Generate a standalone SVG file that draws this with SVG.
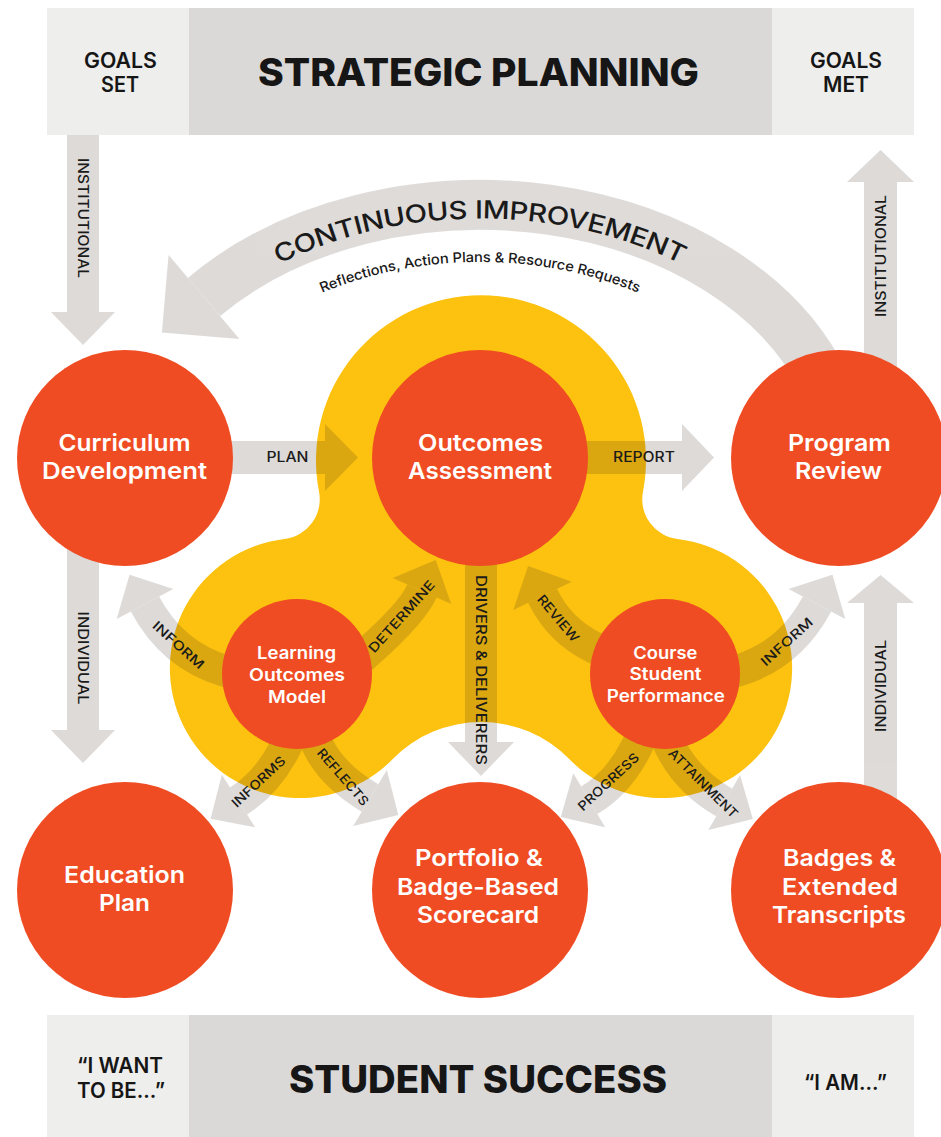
<svg xmlns="http://www.w3.org/2000/svg" width="941" height="1137" viewBox="0 0 941 1137">
<style>
text{font-family:Inter,"Liberation Sans",sans-serif}
.node{fill:#ef4c23}
.nl{fill:#fff;font-weight:600;font-size:23px;text-anchor:middle}
.sl{fill:#fff;font-weight:600;font-size:17px;text-anchor:middle}
.bt{fill:#161616;font-weight:800;font-size:38px;text-anchor:middle}
.bs{fill:#161616;font-weight:600;font-size:21px;text-anchor:middle}
.al{fill:#1a1a1a;font-weight:500;font-size:14px;text-anchor:middle}
.cl{fill:#1a1a1a;font-weight:500;font-size:13px;text-anchor:middle}
.ar{fill:#3a2a20}
.bd{fill:none;stroke:#3a2a20;stroke-linejoin:round}
</style>
<defs>
<path id="ciPath" d="M 137,380.3 A 365 266.4 0 0 1 823,380.3"/>
<path id="rfPath" d="M 191.5,397.8 A 307 214 0 0 1 768.5,397.8"/>
</defs>
<rect width="941" height="1137" fill="#fff"/>

<g id="strategic-planning">
<rect x="47" y="8" width="867" height="127" fill="#eeeeed"/>
<rect x="189" y="8" width="583" height="127" fill="#dbd9d8"/>
<text class="bs" x="120.5" y="67.6" textLength="73" lengthAdjust="spacingAndGlyphs">GOALS</text>
<text class="bs" x="120" y="92.3" textLength="38" lengthAdjust="spacingAndGlyphs">SET</text>
<text class="bt" x="478.5" y="86.2" textLength="441" lengthAdjust="spacingAndGlyphs">STRATEGIC PLANNING</text>
<text class="bs" x="846" y="67.6" textLength="72" lengthAdjust="spacingAndGlyphs">GOALS</text>
<text class="bs" x="846" y="92.3" textLength="46" lengthAdjust="spacingAndGlyphs">MET</text>
</g>

<g id="student-success">
<rect x="47" y="1015" width="867" height="122" fill="#eeeeed"/>
<rect x="189" y="1015" width="583" height="122" fill="#dbd9d8"/>
<text class="bs" x="120" y="1073" textLength="86" lengthAdjust="spacingAndGlyphs">“I WANT</text>
<text class="bs" x="121" y="1098" textLength="88" lengthAdjust="spacingAndGlyphs">TO BE...”</text>
<text class="bt" x="478" y="1092.7" textLength="378" lengthAdjust="spacingAndGlyphs">STUDENT SUCCESS</text>
<text class="bs" x="845.5" y="1089.5" textLength="83" lengthAdjust="spacingAndGlyphs">“I AM...”</text>
</g>

<g id="outcomes-core">
<path d="M 319,491.6 A 165 165 0 1 1 643,491.6 A 40 40 0 0 0 677.5,539 A 130 130 0 1 1 569.2,759 A 123.5 123.5 0 0 0 392.8,759 A 130 130 0 1 1 284.5,539 A 40 40 0 0 0 319,491.6 Z" fill="#fcc20f"/>
</g>

<g id="connectors" opacity="0.17">
<path class="bd" stroke-width="50" d="M 825.3,385 A 365 266.4 0 0 0 204,297"/>
<polygon class="ar" points="239.4,339.1 161.9,332.4 168.6,254.9"/>
<polygon class="ar" points="230,441 325,441 325,424 358,457.5 325,491 325,474 230,474"/>
<polygon class="ar" points="585,441 682,441 682,424 714,457.5 682,491 682,474 585,474"/>
<polygon class="ar" points="465,555 497,555 497,742 514,742 481,776 448,742 465,742"/>
<polygon class="ar" points="67,135 99,135 99,312 115,312 83,345 51,312 67,312"/>
<polygon class="ar" points="67,545 99,545 99,730 115,730 83,763 51,730 67,730"/>
<polygon class="ar" points="864,375 864,182 847,182 880.5,150 914,182 897,182 897,375"/>
<polygon class="ar" points="864,810 864,603 847,603 880.5,575 914,603 897,603 897,810"/>
<path class="bd" stroke-width="32" d="M 282,688 L 225,671 Q 172,655 145,604"/>
<polygon class="ar" points="173.3,589 129.6,574.8 116.7,619"/>
<path class="bd" stroke-width="32" d="M 338,679 L 368,652 Q 412.6,612.4 422,591"/>
<polygon class="ar" points="451.3,603.9 435.7,559.9 392.7,578.1"/>
<path class="bd" stroke-width="32" d="M 303,712 L 285,748 Q 267.5,782.6 238.5,801"/>
<polygon class="ar" points="255.1,827.2 210.6,818.7 221.9,774.8"/>
<path class="bd" stroke-width="32" d="M 301,712 L 319,748 Q 333.1,775.9 370,798"/>
<polygon class="ar" points="386.8,770 398.3,815 353.2,826"/>
<path class="bd" stroke-width="32" d="M 635.6,667.4 L 595,648 Q 559.6,631.1 542.5,595.8"/>
<polygon class="ar" points="571.7,581.7 528.1,566.1 513.3,609.9"/>
<path class="bd" stroke-width="32" d="M 680,688 L 737,671 Q 790,655 817,604"/>
<polygon class="ar" points="845.3,619 832.4,574.8 788.7,589"/>
<path class="bd" stroke-width="32" d="M 654,712 L 636,748 Q 618.1,783.3 589.2,800.3"/>
<polygon class="ar" points="605.1,827.3 560.8,817 573.3,773.3"/>
<path class="bd" stroke-width="32" d="M 653,712 L 671,748 Q 688,781.6 724.2,802.5"/>
<polygon class="ar" points="740.05,775.05 752.8,819 708.35,829.95"/>
</g>

<g id="connector-labels">
<text fill="#1a1a1a" style="font-weight:500;font-size:25px" dy="13.5"><textPath href="#ciPath" startOffset="50%" text-anchor="middle" textLength="428" lengthAdjust="spacingAndGlyphs">CONTINUOUS IMPROVEMENT</textPath></text>
<text fill="#1a1a1a" style="font-weight:500;font-size:14px" dy="5"><textPath href="#rfPath" startOffset="50%" text-anchor="middle" textLength="328" lengthAdjust="spacingAndGlyphs">Reflections, Action Plans &amp; Resource Requests</textPath></text>
<text class="al" x="287.5" y="461.7" textLength="42" lengthAdjust="spacingAndGlyphs">PLAN</text>
<text class="al" x="644" y="461.7" textLength="62" lengthAdjust="spacingAndGlyphs">REPORT</text>
<text class="al" transform="translate(83,218) rotate(90)" y="5" textLength="120" lengthAdjust="spacingAndGlyphs">INSTITUTIONAL</text>
<text class="al" transform="translate(83,658) rotate(90)" y="5" textLength="93" lengthAdjust="spacingAndGlyphs">INDIVIDUAL</text>
<text class="al" transform="translate(481,670) rotate(90)" y="5" textLength="190" lengthAdjust="spacingAndGlyphs">DRIVERS &amp; DELIVERERS</text>
<text class="al" transform="translate(881,256) rotate(-90)" y="5" textLength="122" lengthAdjust="spacingAndGlyphs">INSTITUTIONAL</text>
<text class="al" transform="translate(881,686) rotate(-90)" y="5" textLength="92" lengthAdjust="spacingAndGlyphs">INDIVIDUAL</text>
<text class="cl" transform="translate(178.5,645) rotate(42)" y="4.7" textLength="64" lengthAdjust="spacingAndGlyphs">INFORM</text>
<text class="cl" transform="translate(401.5,616.5) rotate(-48)" y="4.7" textLength="92" lengthAdjust="spacingAndGlyphs">DETERMINE</text>
<text class="cl" transform="translate(258.3,781.7) rotate(-43)" y="4.7" textLength="68" lengthAdjust="spacingAndGlyphs">INFORMS</text>
<text class="cl" transform="translate(343,777) rotate(49)" y="4.7" textLength="71" lengthAdjust="spacingAndGlyphs">REFLECTS</text>
<text class="cl" transform="translate(558.3,618.3) rotate(50)" y="4.7" textLength="57" lengthAdjust="spacingAndGlyphs">REVIEW</text>
<text class="cl" transform="translate(786.7,641.7) rotate(-42)" y="4.7" textLength="65" lengthAdjust="spacingAndGlyphs">INFORM</text>
<text class="cl" transform="translate(608.3,781.7) rotate(-43)" y="4.7" textLength="78" lengthAdjust="spacingAndGlyphs">PROGRESS</text>
<text class="cl" transform="translate(703.3,783.3) rotate(45)" y="4.7" textLength="92" lengthAdjust="spacingAndGlyphs">ATTAINMENT</text>
</g>

<g id="curriculum-development">
<circle class="node" cx="125" cy="458" r="108"/>
<text class="nl" x="124.5" y="451" textLength="132" lengthAdjust="spacingAndGlyphs">Curriculum</text>
<text class="nl" x="124.5" y="479" textLength="165" lengthAdjust="spacingAndGlyphs">Development</text>
</g>
<g id="outcomes-assessment">
<circle class="node" cx="480" cy="458" r="108"/>
<text class="nl" x="480.5" y="451" textLength="125" lengthAdjust="spacingAndGlyphs">Outcomes</text>
<text class="nl" x="480" y="479" textLength="144" lengthAdjust="spacingAndGlyphs">Assessment</text>
</g>
<g id="program-review">
<circle class="node" cx="839" cy="458" r="108"/>
<text class="nl" x="839.4" y="451" textLength="103" lengthAdjust="spacingAndGlyphs">Program</text>
<text class="nl" x="838.5" y="479" textLength="87" lengthAdjust="spacingAndGlyphs">Review</text>
</g>
<g id="education-plan">
<circle class="node" cx="125" cy="890" r="108"/>
<text class="nl" x="124.5" y="882.5" textLength="121" lengthAdjust="spacingAndGlyphs">Education</text>
<text class="nl" x="124.5" y="910.5" textLength="51" lengthAdjust="spacingAndGlyphs">Plan</text>
</g>
<g id="portfolio-scorecard">
<circle class="node" cx="480" cy="890" r="108"/>
<text class="nl" x="479" y="866" textLength="128" lengthAdjust="spacingAndGlyphs">Portfolio &amp;</text>
<text class="nl" x="478" y="894.5" textLength="162" lengthAdjust="spacingAndGlyphs">Badge-Based</text>
<text class="nl" x="478" y="923" textLength="122" lengthAdjust="spacingAndGlyphs">Scorecard</text>
</g>
<g id="badges-transcripts">
<circle class="node" cx="839" cy="890" r="108"/>
<text class="nl" x="839.5" y="866" textLength="113" lengthAdjust="spacingAndGlyphs">Badges &amp;</text>
<text class="nl" x="840" y="894.5" textLength="116" lengthAdjust="spacingAndGlyphs">Extended</text>
<text class="nl" x="839" y="923" textLength="134" lengthAdjust="spacingAndGlyphs">Transcripts</text>
</g>
<g id="learning-outcomes-model">
<circle class="node" cx="297" cy="674" r="75"/>
<text class="sl" x="296.5" y="659" textLength="79" lengthAdjust="spacingAndGlyphs">Learning</text>
<text class="sl" x="297" y="680.5" textLength="96" lengthAdjust="spacingAndGlyphs">Outcomes</text>
<text class="sl" x="297" y="702.5" textLength="58" lengthAdjust="spacingAndGlyphs">Model</text>
</g>
<g id="course-student-performance">
<circle class="node" cx="665" cy="674" r="75"/>
<text class="sl" x="665.3" y="658.5" textLength="64" lengthAdjust="spacingAndGlyphs">Course</text>
<text class="sl" x="665.5" y="680.3" textLength="72" lengthAdjust="spacingAndGlyphs">Student</text>
<text class="sl" x="665.8" y="702.3" textLength="118" lengthAdjust="spacingAndGlyphs">Performance</text>
</g>
</svg>
